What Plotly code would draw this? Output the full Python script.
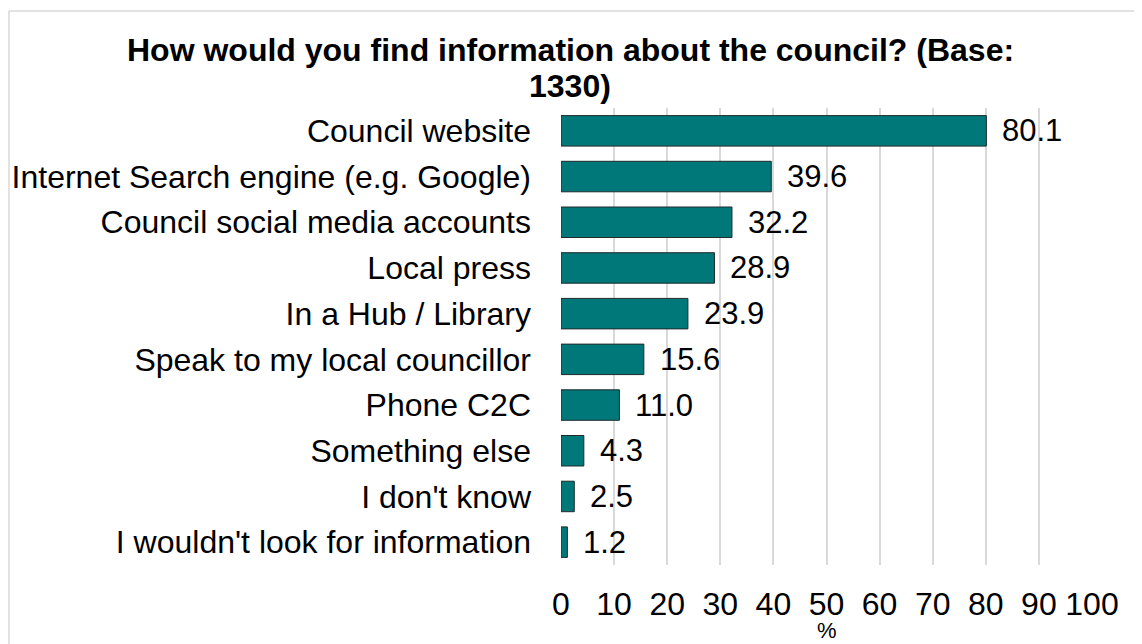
import plotly.graph_objects as go

# Survey answers, top to bottom as shown
sources = [
    "Council website",
    "Internet Search engine (e.g. Google)",
    "Council social media accounts",
    "Local press",
    "In a Hub / Library",
    "Speak to my local councillor",
    "Phone C2C",
    "Something else",
    "I don't know",
    "I wouldn't look for information",
]
percent = [80.1, 39.6, 32.2, 28.9, 23.9, 15.6, 11.0, 4.3, 2.5, 1.2]
x_ticks = list(range(0, 101, 10))
title_lines = ["How would you find information about the council? (Base:", "1330)"]

font_family = "Liberation Sans, Arial, sans-serif"

# page body has an 8px margin, so the figure is a little smaller than the window
W, H = 1134, 636
L, T, PW, PH = 553, 100, 531, 457

fig = go.Figure(go.Bar(
    x=percent, y=sources, orientation="h",
    marker=dict(color="#00787A", line=dict(color="#1f2a2a", width=1)),
    hoverinfo="x+y",
))

# value labels just right of each bar end
for v, s in zip(percent, sources):
    fig.add_annotation(x=v, y=s, text=f"{v:.1f}", showarrow=False,
                       xanchor="left", xshift=14,
                       font=dict(size=31, color="#000000", family=font_family))

# two-line bold title, tighter line spacing than plotly's default
for line, yc in zip(title_lines, [42, 78]):
    fig.add_annotation(xref="paper", yref="paper",
                       x=(562 - L) / PW, y=1 + (T - yc) / PH,
                       text=f"<b>{line}</b>", showarrow=False,
                       xanchor="center", yanchor="middle",
                       font=dict(size=32, color="#000000", family=font_family))

# x axis title "%" under the middle of the axis
fig.add_annotation(xref="paper", yref="paper", x=0.5, y=1 + (T - 622) / PH,
                   text="%", showarrow=False, xanchor="center", yanchor="middle",
                   borderpad=0,
                   font=dict(size=22, color="#000000", family=font_family))

fig.update_layout(
    width=W, height=H,
    paper_bgcolor="white", plot_bgcolor="white",
    margin=dict(l=L, r=W - L - PW, t=T, b=H - T - PH),
    bargap=0.333,
    showlegend=False,
    font=dict(family=font_family, color="#000000"),
    xaxis=dict(
        range=[0, 100], tickvals=x_ticks, showgrid=True,
        gridcolor="#D9D9D9", gridwidth=1.5, zeroline=False,
        showline=False, ticks="", ticklabelstandoff=17, automargin=False,
        tickfont=dict(size=32, family=font_family, color="#000000"),
    ),
    yaxis=dict(
        autorange="reversed", showgrid=False, zeroline=False,
        showline=False, ticks="", ticklabelstandoff=29, automargin=False,
        tickfont=dict(size=32, family=font_family, color="#000000"),
    ),
)

# outer chart border (top and left edges fall inside the window)
bx = (1 - L) / PW
by = 1 + (T - 3) / PH
fig.add_shape(type="line", xref="paper", yref="paper",
              x0=bx, x1=1.2, y0=by, y1=by,
              line=dict(color="#D9D9D9", width=1.5))
fig.add_shape(type="line", xref="paper", yref="paper",
              x0=bx, x1=bx, y0=by, y1=-0.3,
              line=dict(color="#D9D9D9", width=1.5))

fig.write_html("out.html")
